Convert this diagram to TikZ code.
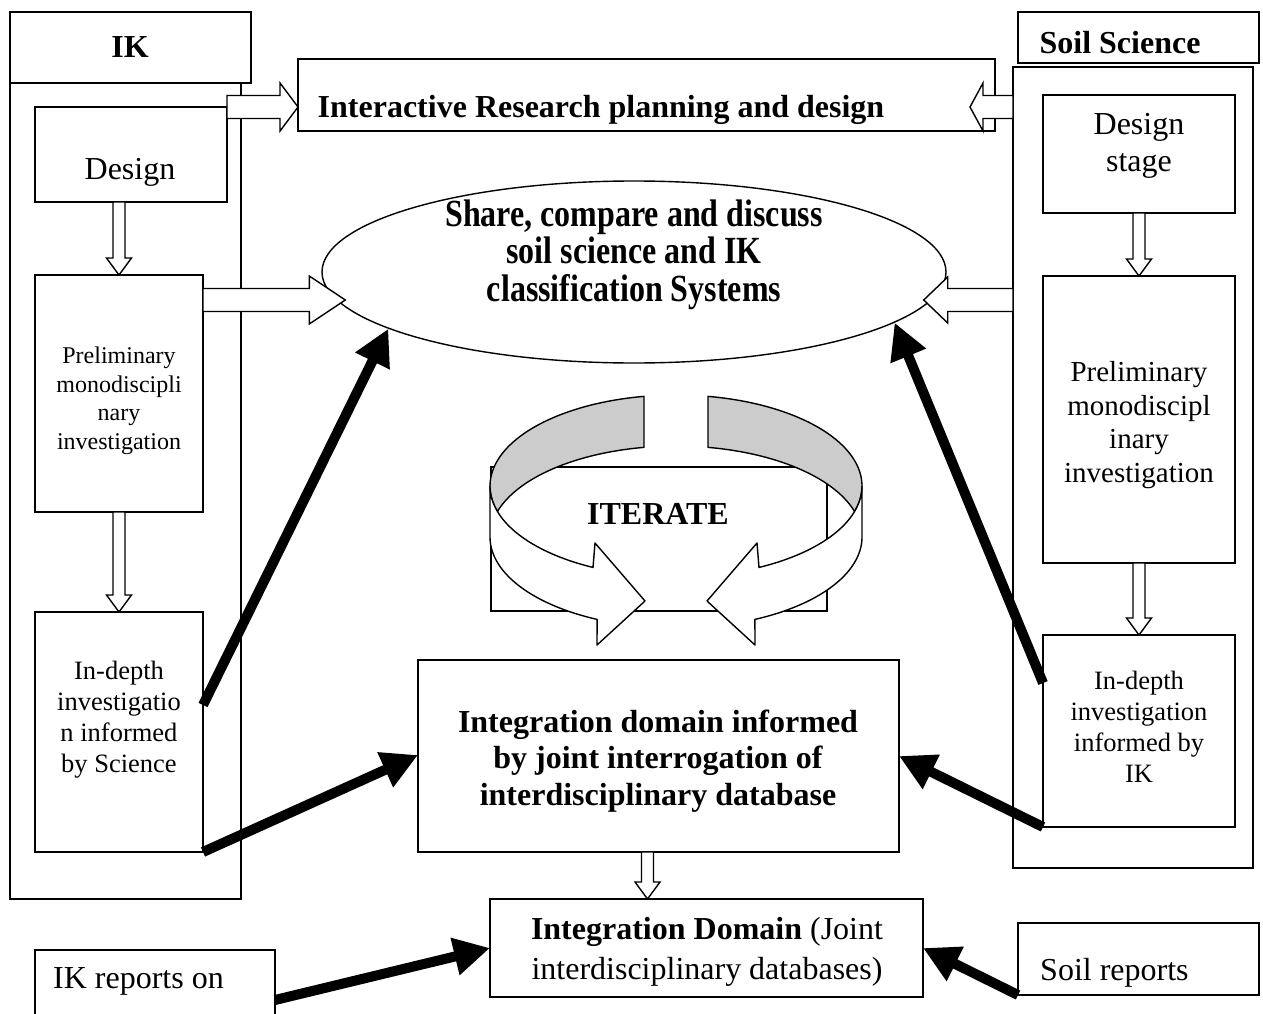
\documentclass[tikz,border=0pt]{standalone}
\usepackage{fontspec}
\usepackage{graphicx}
\setmainfont{Liberation Serif}
\usetikzlibrary{arrows.meta,calc,shapes.geometric}

% font sizes (1pt = 1 unit of the drawing)
\newcommand\fmain{\fontsize{32}{36.8}\selectfont}
\newcommand\ftall{\fontsize{32}{29.6}\selectfont}
\newcommand\fprelimL{\fontsize{24}{28.5}\selectfont}
\newcommand\fprelimR{\fontsize{29}{33.6}\selectfont}
\newcommand\findepth{\fontsize{26.5}{31}\selectfont}

% hollow block arrow: start, tip, shaft half width, head half width, head length
\newcommand\blockarrow[5]{%
  \coordinate (ba-s) at (#1);
  \coordinate (ba-t) at (#2);
  \coordinate (ba-b) at ($(ba-t)!#5!(ba-s)$);
  \draw[hollow] ($(ba-s)!#3!90:(ba-t)$) -- ($(ba-b)!#3!90:(ba-t)$)
    -- ($(ba-b)!#4!90:(ba-t)$) -- (ba-t) -- ($(ba-b)!#4!-90:(ba-t)$)
    -- ($(ba-b)!#3!-90:(ba-t)$) -- ($(ba-s)!#3!-90:(ba-t)$) -- cycle;
}

\tikzset{
  box/.style={draw, line width=1.4pt, rectangle, inner sep=0pt, outer sep=0pt, anchor=north west},
  txt/.style={inner sep=0pt, align=center, font=\fmain},
  hollow/.style={draw, fill=white, line width=1.4pt, line join=miter},
  heavy/.style={line width=10pt, -{Triangle[length=36pt,width=36pt]}},
  ring/.style={draw, line width=1.4pt, line join=round},
}

\begin{document}
\begin{tikzpicture}[x=1pt, y=-1pt]
\clip (0,0) rectangle (1263,1014);
\fill[white] (0,0) rectangle (1263,1014);

% ---- IK column ----
\node[box, minimum width=231pt, minimum height=816pt] (ikcol) at (10,83) {};
\node[box, minimum width=241pt, minimum height=71pt] (ikhead) at (10,12) {};
\node[txt, font=\fmain\bfseries] (tik) at (130,47) {IK};
\node[box, minimum width=192pt, minimum height=95pt] (designL) at (35,107) {};
\node[txt] (tdesignL) at (130,172) {Design};
\node[box, minimum width=168pt, minimum height=237pt] (prelimL) at (35,275) {};
\node[txt, font=\fprelimL] (tprelimL) at (119,401) {Preliminary\\monodiscipli\\nary\\investigation};
\node[box, minimum width=168pt, minimum height=240pt] (indepL) at (35,612) {};
\node[txt, font=\findepth] (tindepL) at (119,720) {In-depth\\investigatio\\n informed\\by Science};

% ---- Soil Science column ----
\node[box, minimum width=240pt, minimum height=801pt] (soilcol) at (1013,67) {};
\node[box, minimum width=241pt, minimum height=51pt] (soilhead) at (1018,12) {};
\node[txt, font=\fmain\bfseries] (tsoil) at (1120,43) {Soil Science};
\node[box, minimum width=192pt, minimum height=118pt] (designR) at (1043,95) {};
\node[txt] (tdesignR) at (1139,146) {Design\\stage};
\node[box, minimum width=192pt, minimum height=287pt] (prelimR) at (1043,276) {};
\node[txt, font=\fprelimR] (tprelimR) at (1139,425) {Preliminary\\monodiscipl\\inary\\investigation};
\node[box, minimum width=192pt, minimum height=192pt] (indepR) at (1043,635) {};
\node[txt, font=\findepth] (tindepR) at (1139,727) {In-depth\\investigation\\informed by\\IK};

% ---- centre ----
\node[box, minimum width=697pt, minimum height=72pt] (irp) at (298,59) {};
\node[txt, font=\fmain\bfseries] (tirp) at (601,110) {Interactive Research planning and design};

\node[draw, ellipse, line width=1.4pt, minimum width=624pt, minimum height=182pt, inner sep=0pt] (ell) at (634,272) {};
\node[txt, font=\ftall\bfseries] (tell) at (634,256) {\scalebox{1}[1.2]{\begin{tabular}{@{}c@{}}Share, compare and discuss\\soil science and IK\\classification Systems\end{tabular}}};

% iterate graphic
\node[box, minimum width=336pt, minimum height=144pt] (iterbox) at (491,467) {};
\node[txt, font=\fmain\bfseries] (titer) at (658,514) {ITERATE};
% inner (back) side of the ribbon
\fill[gray!40] plot[domain=260.1:163.7, samples=50] ({676+186*cos(\x)}, {486+91*sin(\x)})
  -- plot[domain=196.3:260.1, samples=40] ({676+186*cos(\x)}, {537+91*sin(\x)}) -- cycle;
\draw[ring] plot[domain=260.1:163.7, samples=50] ({676+186*cos(\x)}, {486+91*sin(\x)})
  -- plot[domain=196.3:260.1, samples=40] ({676+186*cos(\x)}, {537+91*sin(\x)}) -- cycle;
\fill[gray!40] plot[domain=279.9:376.3, samples=50] ({676+186*cos(\x)}, {486+91*sin(\x)})
  -- plot[domain=343.7:279.9, samples=40] ({676+186*cos(\x)}, {537+91*sin(\x)}) -- cycle;
\draw[ring] plot[domain=279.9:376.3, samples=50] ({676+186*cos(\x)}, {486+91*sin(\x)})
  -- plot[domain=343.7:279.9, samples=40] ({676+186*cos(\x)}, {537+91*sin(\x)}) -- cycle;
% outer (front) side with the two heads
\filldraw[ring, fill=white] plot[domain=180:116.5, samples=50] ({676+186*cos(\x)}, {486+91*sin(\x)})
  -- (595,543) -- (645,601) -- (597,645)
  -- plot[domain=115.1:180, samples=50] ({676+186*cos(\x)}, {537+91*sin(\x)}) -- cycle;
\filldraw[ring, fill=white] plot[domain=0:63.5, samples=50] ({676+186*cos(\x)}, {486+91*sin(\x)})
  -- (757,543) -- (707,601) -- (755,645)
  -- plot[domain=64.9:0, samples=50] ({676+186*cos(\x)}, {537+91*sin(\x)}) -- cycle;

\node[box, minimum width=481pt, minimum height=192pt] (intg) at (418,660) {};
\node[txt, font=\fmain\bfseries] (tintg) at (658,761) {Integration domain informed\\by joint interrogation of\\interdisciplinary database};

\node[box, minimum width=433pt, minimum height=98pt] (domain) at (490,899) {};
\node[txt, font=\fontsize{32}{40}\selectfont] (tdomain) at (707,952) {\textbf{Integration Domain} (Joint\\interdisciplinary databases)};

% ---- reports ----
\node[box, minimum width=240pt, minimum height=80pt] (ikrep) at (35,950) {};
\node[txt, anchor=west] (tikrep) at (53,981) {IK reports on};
\node[box, minimum width=241pt, minimum height=72pt] (soilrep) at (1018,923) {};
\node[txt, anchor=west] (tsoilrep) at (1040,973) {Soil reports};

% ---- hollow arrows ----
\blockarrow{designL.east |- 0,107}{irp.west |- 0,107}{11.5pt}{24pt}{18pt}
\blockarrow{soilcol.west |- 0,107}{$(irp.east |- 0,107)+(-25,0)$}{11.5pt}{24pt}{13pt}
\blockarrow{prelimL.east |- 0,300}{$(ell.west |- 0,300)+(24,0)$}{11.5pt}{24pt}{36pt}
\blockarrow{soilcol.west |- 0,300}{$(ell.east |- 0,300)+(-23,0)$}{11.5pt}{23pt}{24pt}
\blockarrow{prelimL.north |- designL.south}{prelimL.north}{6pt}{12.5pt}{17pt}
\blockarrow{prelimL.south}{indepL.north}{6pt}{12.5pt}{17pt}
\blockarrow{designR.south}{prelimR.north}{6pt}{12.5pt}{17pt}
\blockarrow{prelimR.south}{indepR.north}{6pt}{12.5pt}{17pt}
\blockarrow{$(intg.south)+(-11,0)$}{$(domain.north -| intg.south)+(-11,0)$}{6pt}{12.5pt}{17pt}

% ---- heavy arrows ----
\draw[heavy] (indepL.east |- 0,705) -- (ell.193);
\draw[heavy] (indepL.south east) -- (intg.west |- 0,755);
\draw[heavy] (indepR.west |- 0,683) -- (ell.-11);
\draw[heavy] (indepR.south west) -- (intg.east |- 0,756);
\draw[heavy] (ikrep.east |- 0,1000) -- (domain.west |- 0,948);
\draw[heavy] (soilrep.south west) -- (domain.east |- 0,948);
\end{tikzpicture}
\end{document}
